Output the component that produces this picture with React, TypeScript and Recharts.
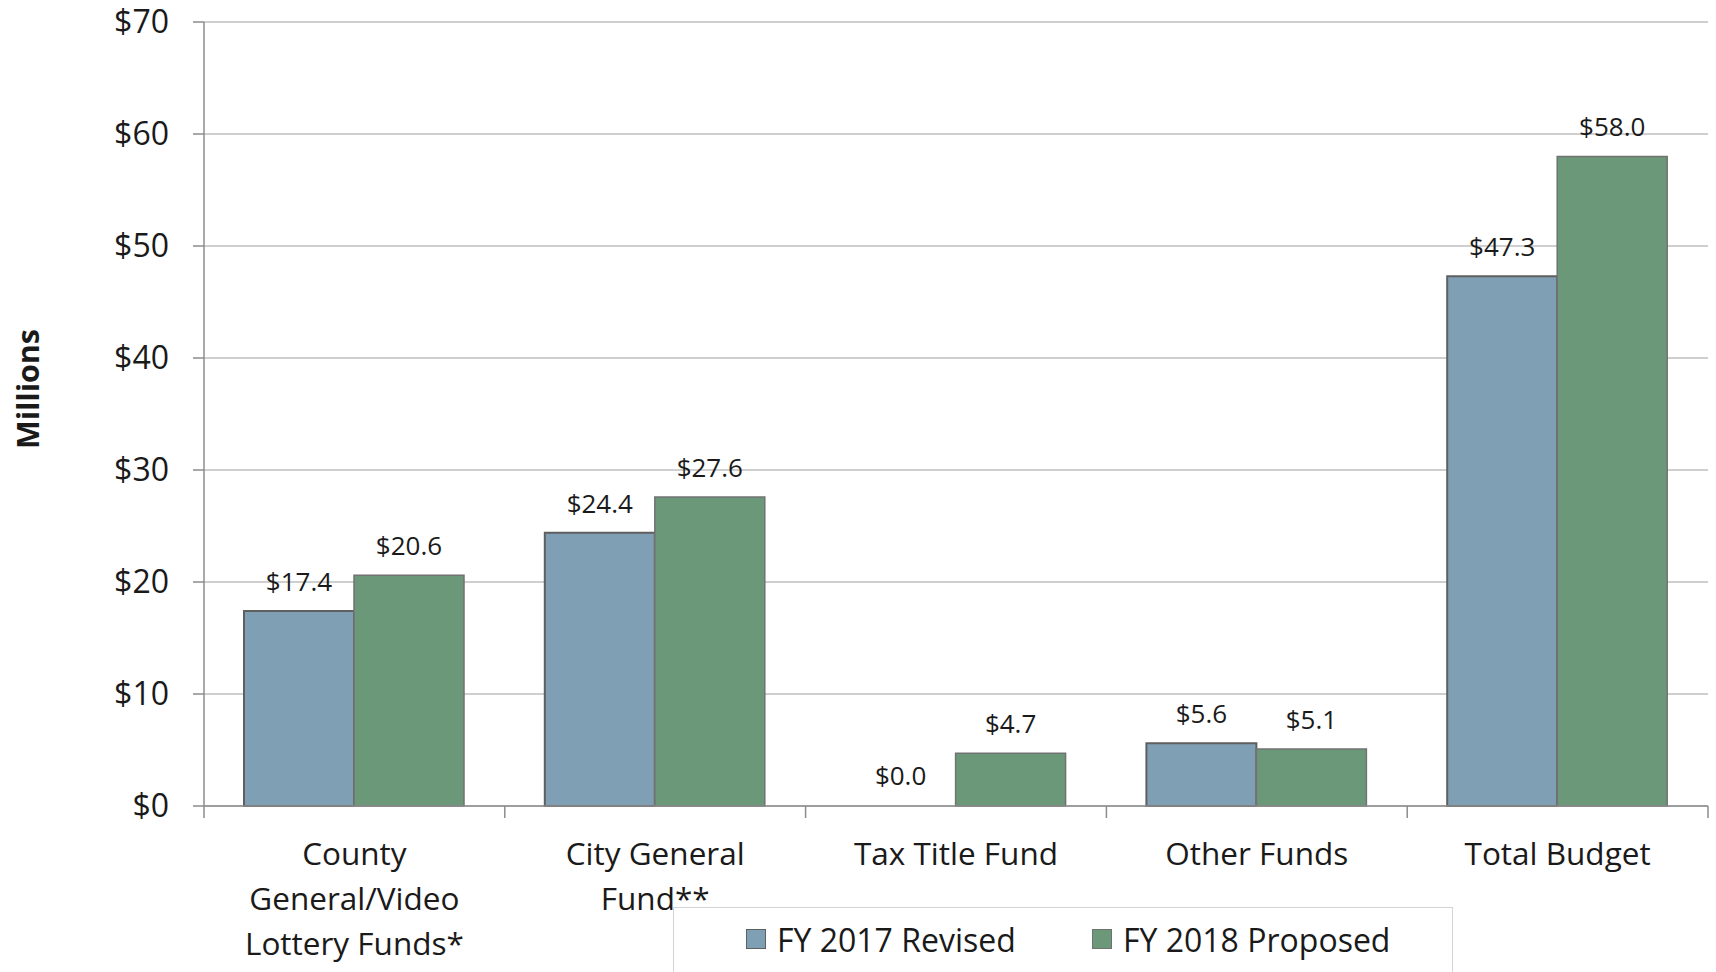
import React from 'react';
import { BarChart, Bar, XAxis, YAxis, CartesianGrid, LabelList, Cell } from 'recharts';

const categoryLines: string[][] = [
  ['County', 'General/Video', 'Lottery Funds*'],
  ['City General', 'Fund**'],
  ['Tax Title Fund'],
  ['Other Funds'],
  ['Total Budget'],
];
const fy2017Revised = [17.4, 24.4, 0.0, 5.6, 47.3];
const fy2018Proposed = [20.6, 27.6, 4.7, 5.1, 58.0];
const yTicks = [0, 10, 20, 30, 40, 50, 60, 70];
const seriesNames = ['FY 2017 Revised', 'FY 2018 Proposed'];

const data = categoryLines.map((lines, i) => ({
  name: lines.join(' '),
  fy2017: fy2017Revised[i],
  fy2018: fy2018Proposed[i],
}));

const WIDTH = 1716;
const HEIGHT = 972;
const MARGIN = { top: 22, right: 8, bottom: 0, left: 0 };
const Y_W = 204;
const X_H = 166;
const BAND = (WIDTH - MARGIN.left - MARGIN.right - Y_W) / categoryLines.length;

const FONT = '"Open Sans", "DejaVu Sans", sans-serif';
const BLUE = '#7f9fb5';
const GREEN = '#6a9878';
const AXIS = '#8c8c8c';
const TEXT = '#1a1a1a';

function CatTick(props: any) {
  const { x, y, index } = props;
  const lines = categoryLines[index] || [];
  const half = BAND / 2;
  return (
    <g>
      <line x1={x - half} x2={x - half} y1={y} y2={y + 12} stroke={AXIS} strokeWidth={1.5} />
      {index === categoryLines.length - 1 && (
        <line x1={x + half} x2={x + half} y1={y} y2={y + 12} stroke={AXIS} strokeWidth={1.5} />
      )}
      <text textAnchor="middle" fill={TEXT} fontSize={31.5} fontFamily={FONT}>
        {lines.map((l, i) => (
          <tspan key={i} x={x} y={y + 59 + i * 45}>
            {l}
          </tspan>
        ))}
      </text>
    </g>
  );
}

function MillionsLabel(props: any) {
  const vb = props.viewBox || { x: 0, y: 22, width: 204, height: 784 };
  const cx = vb.x + 27;
  const cy = vb.y + vb.height / 2 - 25;
  return (
    <text
      x={cx}
      y={cy}
      transform={`rotate(-90, ${cx}, ${cy})`}
      textAnchor="middle"
      dominantBaseline="central"
      fontFamily={FONT}
      fontWeight="bold"
      fontSize={30.5}
      fill={TEXT}
    >
      Millions
    </text>
  );
}

const fmt = (v: any) => `$${Number(v).toFixed(1)}`;

export default function App() {
  const colors = [BLUE, GREEN];
  const borders = ['#5f5f5f', '#707070'];
  return (
    <div style={{ position: 'absolute', left: 0, top: 0, width: WIDTH, height: HEIGHT, background: '#fff', overflow: 'hidden' }}>
      <BarChart width={WIDTH} height={HEIGHT} data={data} margin={MARGIN} barGap={0} barSize={110}>
        <CartesianGrid vertical={false} stroke="#bfbfbf" strokeWidth={1.5} />
        <XAxis
          dataKey="name"
          interval={0}
          height={X_H}
          tickLine={false}
          tickSize={0}
          tickMargin={0}
          axisLine={{ stroke: AXIS, strokeWidth: 1.5 }}
          tick={<CatTick />}
        />
        <YAxis
          width={Y_W}
          domain={[0, 70]}
          ticks={yTicks}
          interval={0}
          tickFormatter={(v: number) => `$${v}`}
          axisLine={{ stroke: AXIS, strokeWidth: 1.5 }}
          tickLine={{ stroke: AXIS, strokeWidth: 1.5 }}
          tickSize={11}
          tickMargin={24}
          tick={{ fill: TEXT, fontSize: 32, fontFamily: FONT }}
          label={(p: any) => <MillionsLabel {...p} />}
        />
        <Bar
          dataKey="fy2017"
          name={seriesNames[0]}
          fill={BLUE}
          stroke="#5f5f5f"
          strokeWidth={2}
          minPointSize={1}
          isAnimationActive={false}
        >
          {fy2017Revised.map((v, i) => (
            <Cell
              key={i}
              fill={v === 0 ? 'transparent' : BLUE}
              stroke={v === 0 ? 'none' : '#5f5f5f'}
            />
          ))}
          <LabelList dataKey="fy2017" position="top" offset={20} formatter={fmt} fill={TEXT} fontSize={26} fontFamily={FONT} />
        </Bar>
        <Bar
          dataKey="fy2018"
          name={seriesNames[1]}
          fill={GREEN}
          stroke="#727272"
          strokeWidth={1.5}
          minPointSize={1}
          isAnimationActive={false}
        >
          {fy2018Proposed.map((v, i) => (
            <Cell
              key={i}
              fill={v === 0 ? 'transparent' : GREEN}
              stroke={v === 0 ? 'none' : '#727272'}
            />
          ))}
          <LabelList dataKey="fy2018" position="top" offset={20} formatter={fmt} fill={TEXT} fontSize={26} fontFamily={FONT} />
        </Bar>
      </BarChart>
      <div
        style={{
          position: 'absolute',
          left: 673,
          top: 907,
          width: 780,
          height: 80,
          border: '1px solid #d4d4d4',
          boxSizing: 'border-box',
          background: '#fff',
        }}
      >
        {seriesNames.map((n, i) => (
          <div
            key={n}
            style={{
              position: 'absolute',
              left: i === 0 ? 72 : 418,
              top: 10,
              height: 42,
              display: 'flex',
              alignItems: 'center',
              fontFamily: FONT,
              fontSize: 32,
              color: TEXT,
              whiteSpace: 'nowrap',
            }}
          >
            <span
              style={{
                display: 'inline-block',
                width: 20,
                height: 20,
                background: colors[i],
                border: `1px solid ${borders[i]}`,
                boxSizing: 'border-box',
                marginRight: 11,
              }}
            />
            {n}
          </div>
        ))}
      </div>
    </div>
  );
}
